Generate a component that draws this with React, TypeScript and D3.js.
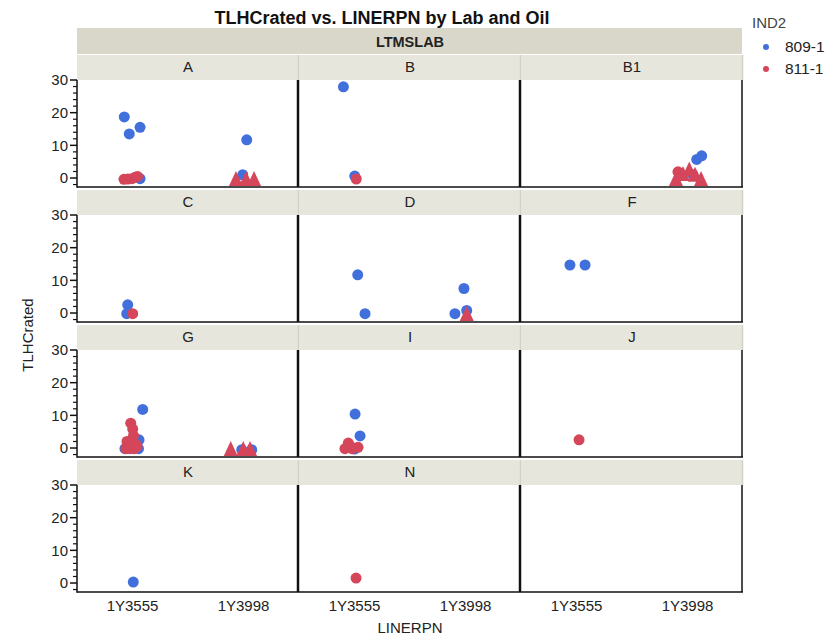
import React from "react";
import * as d3 from "d3";

// Lab panels in reading order (last cell of the grid is empty)
const LABS = ["A", "B", "B1", "C", "D", "F", "G", "I", "J", "K", "N", ""];
const LINERS = ["1Y3555", "1Y3998"];
const IND2 = ["809-1", "811-1"];
const Y_TICKS = [0, 10, 20, 30];
const Y_MINOR = d3.range(-2, 30, 2).filter((v) => v % 10 !== 0);

// [lab, liner, jitter (category units), TLHCrated, marker]
type Pt = [string, string, number, number, "c" | "t"];

const SERIES_809: Pt[] = [
  ["A", "1Y3555", -0.074, 18.7, "c"],
  ["A", "1Y3555", -0.029, 13.5, "c"],
  ["A", "1Y3555", 0.068, 15.5, "c"],
  ["A", "1Y3555", 0.068, -0.2, "c"],
  ["A", "1Y3998", 0.029, 11.7, "c"],
  ["A", "1Y3998", -0.007, 1.0, "c"],
  ["B", "1Y3555", -0.1, 27.9, "c"],
  ["B", "1Y3555", 0.002, 0.6, "c"],
  ["B1", "1Y3998", 0.128, 6.8, "c"],
  ["B1", "1Y3998", 0.083, 5.7, "c"],
  ["B1", "1Y3998", 0.05, 1.0, "c"],
  ["C", "1Y3555", -0.043, 2.5, "c"],
  ["C", "1Y3555", -0.052, -0.2, "c"],
  ["D", "1Y3555", 0.029, 11.7, "c"],
  ["D", "1Y3555", 0.095, -0.2, "c"],
  ["D", "1Y3998", -0.095, -0.2, "c"],
  ["D", "1Y3998", -0.014, 7.5, "c"],
  ["D", "1Y3998", 0.011, 0.8, "c"],
  ["F", "1Y3555", -0.059, 14.7, "c"],
  ["F", "1Y3555", 0.077, 14.7, "c"],
  ["G", "1Y3555", 0.092, 11.8, "c"],
  ["G", "1Y3555", -0.068, -0.2, "c"],
  ["G", "1Y3555", 0.059, 2.5, "c"],
  ["G", "1Y3555", 0.054, -0.2, "c"],
  ["G", "1Y3998", -0.016, -0.5, "c"],
  ["G", "1Y3998", 0.074, -0.5, "c"],
  ["I", "1Y3555", 0.005, 10.4, "c"],
  ["I", "1Y3555", 0.05, 3.7, "c"],
  ["I", "1Y3555", 0.0, -0.3, "c"],
  ["K", "1Y3555", 0.007, 0.3, "c"],
];

const SERIES_811: Pt[] = [
  ["A", "1Y3555", -0.077, -0.4, "c"],
  ["A", "1Y3555", -0.041, -0.3, "c"],
  ["A", "1Y3555", -0.005, -0.2, "c"],
  ["A", "1Y3555", 0.023, 0.2, "c"],
  ["A", "1Y3555", 0.045, 0.5, "c"],
  ["A", "1Y3998", -0.068, -0.3, "t"],
  ["A", "1Y3998", 0.023, -0.3, "t"],
  ["A", "1Y3998", 0.095, -0.3, "t"],
  ["B", "1Y3555", 0.016, -0.3, "c"],
  ["B1", "1Y3998", -0.086, 1.9, "c"],
  ["B1", "1Y3998", -0.104, -0.3, "t"],
  ["B1", "1Y3998", -0.041, 1.2, "t"],
  ["B1", "1Y3998", 0.016, 2.6, "t"],
  ["B1", "1Y3998", 0.068, 1.0, "t"],
  ["B1", "1Y3998", 0.122, -0.3, "t"],
  ["C", "1Y3555", 0.002, -0.2, "c"],
  ["D", "1Y3998", 0.011, -0.3, "t"],
  ["G", "1Y3555", -0.016, 7.6, "c"],
  ["G", "1Y3555", 0.002, 5.8, "c"],
  ["G", "1Y3555", 0.009, 3.8, "c"],
  ["G", "1Y3555", -0.05, 2.0, "c"],
  ["G", "1Y3555", 0.005, 2.2, "c"],
  ["G", "1Y3555", 0.032, 1.0, "c"],
  ["G", "1Y3555", -0.059, -0.2, "c"],
  ["G", "1Y3555", -0.023, -0.2, "c"],
  ["G", "1Y3555", 0.014, -0.2, "c"],
  ["G", "1Y3555", 0.041, 0.5, "c"],
  ["G", "1Y3998", -0.115, -0.3, "t"],
  ["G", "1Y3998", -0.002, -0.3, "t"],
  ["G", "1Y3998", 0.059, -0.3, "t"],
  ["I", "1Y3555", -0.056, 1.5, "c"],
  ["I", "1Y3555", -0.086, -0.2, "c"],
  ["I", "1Y3555", -0.023, -0.2, "c"],
  ["I", "1Y3555", 0.032, 0.2, "c"],
  ["I", "1Y3555", -0.041, 0.7, "c"],
  ["J", "1Y3555", 0.023, 2.5, "c"],
  ["N", "1Y3555", 0.014, 1.5, "c"],
];

const COLORS = ["#4170DD", "#D5465A"];
const FONT = "'Liberation Sans', Arial, sans-serif";
const INK = "#222";

const W = 840;
const H = 637;
const LEFT = 77;
const PANEL_W = 222;
const TOP = 55;
const ROW_PITCH = 135;
const STRIP_H = 25;
const PLOT_H = 107;

export default function App() {
  const x = d3.scaleLinear().domain([0, 2]).range([0, PANEL_W]);
  const y = d3.scaleLinear().domain([-2.75, 30]).range([PLOT_H, 0]);
  const xCat = (liner: string, j: number) => x(LINERS.indexOf(liner) + 0.5 + j);
  const rows = Math.ceil(LABS.length / 3);
  const gridRight = LEFT + PANEL_W * 3 - 1;

  const marker = (p: Pt, color: string, key: string) => {
    const cx = xCat(p[1], p[2]);
    const cy = y(p[3]);
    if (p[4] === "t") {
      const path = `M${cx},${cy - 8}L${cx + 7},${cy + 7}L${cx - 7},${cy + 7}Z`;
      return <path key={key} d={path} fill={color} />;
    }
    return <circle key={key} cx={cx} cy={cy} r={5.5} fill={color} />;
  };

  return (
    <svg width={W} height={H} style={{ display: "block", position: "absolute", left: 0, top: 0 }} fontFamily={FONT}>
      <rect width={W} height={H} fill="#fff" />
      <text x={382} y={24} textAnchor="middle" fontSize={18} fontWeight="bold" fill="#111">
        TLHCrated vs. LINERPN by Lab and Oil
      </text>

      {/* outer facet header */}
      <rect x={LEFT} y={28} width={gridRight - LEFT} height={26} fill="#D9D7CA" />
      <text x={410} y={47} textAnchor="middle" fontSize={14.5} fontWeight="bold" fill={INK}>
        LTMSLAB
      </text>

      {LABS.map((lab, k) => {
        const r = Math.floor(k / 3);
        const c = k % 3;
        const px = LEFT + c * PANEL_W;
        const sy = TOP + r * ROW_PITCH;
        const py = sy + STRIP_H;
        const b809 = SERIES_809.filter((p) => p[0] === lab && lab !== "");
        const r811 = SERIES_811.filter((p) => p[0] === lab && lab !== "");
        return (
          <g key={k}>
            <rect x={px} y={sy} width={PANEL_W - (c === 2 ? 1 : 0)} height={STRIP_H} fill="#E7E6DD" />
            <line x1={px + PANEL_W - 0.5} x2={px + PANEL_W - 0.5} y1={sy} y2={sy + STRIP_H} stroke="#D2D1C6" strokeWidth={1.5} />
            <text x={px + PANEL_W / 2} y={sy + 17} textAnchor="middle" fontSize={15} fill={INK}>
              {lab}
            </text>
            <clipPath id={`clip${k}`}>
              <rect x={0} y={0} width={PANEL_W} height={PLOT_H} />
            </clipPath>
            <g transform={`translate(${px},${py})`} clipPath={`url(#clip${k})`}>
              {b809.map((p, i) => marker(p, COLORS[0], `b${i}`))}
              {r811.map((p, i) => marker(p, COLORS[1], `r${i}`))}
            </g>
          </g>
        );
      })}

      {/* frames, axes */}
      {d3.range(rows).map((r) => {
        const py = TOP + r * ROW_PITCH + STRIP_H;
        return (
          <g key={`ax${r}`}>
            <line x1={LEFT} x2={gridRight + 1} y1={py + PLOT_H} y2={py + PLOT_H} stroke="#111" strokeWidth={1.5} />
            <line x1={LEFT} x2={LEFT} y1={py} y2={py + PLOT_H + 0.75} stroke="#111" strokeWidth={1.5} />
            {[1, 2].map((c) => (
              <line key={c} x1={LEFT + c * PANEL_W - 1} x2={LEFT + c * PANEL_W - 1} y1={py} y2={py + PLOT_H} stroke="#111" strokeWidth={2.5} />
            ))}
            <line x1={gridRight} x2={gridRight} y1={py} y2={py + PLOT_H} stroke="#111" strokeWidth={1.5} />
            {Y_TICKS.map((t) => (
              <g key={t} transform={`translate(${LEFT},${py + y(t)})`}>
                <line x1={-7} x2={0} stroke="#111" strokeWidth={1.5} />
                <text x={-9} dy="0.35em" textAnchor="end" fontSize={15} fill={INK}>
                  {t}
                </text>
              </g>
            ))}
            {Y_MINOR.map((t) => (
              <line key={t} x1={LEFT - 4} x2={LEFT} y1={py + y(t)} y2={py + y(t)} stroke="#111" strokeWidth={1.2} />
            ))}
          </g>
        );
      })}

      {/* category labels under the bottom row */}
      {[0, 1, 2].map((c) =>
        LINERS.map((l, i) => (
          <text key={`${c}${l}`} x={LEFT + c * PANEL_W + x(i + 0.5)} y={611} textAnchor="middle" fontSize={15} fill={INK}>
            {l}
          </text>
        ))
      )}
      <text x={410} y={633} textAnchor="middle" fontSize={15} fill={INK}>
        LINERPN
      </text>
      <text transform="translate(33,335) rotate(-90)" textAnchor="middle" fontSize={15} fill={INK}>
        TLHCrated
      </text>

      {/* legend */}
      <text x={752} y={28} fontSize={15} fill="#444">
        IND2
      </text>
      {IND2.map((s, i) => (
        <g key={s} transform={`translate(766,${47 + i * 22})`}>
          <circle r={3} fill={COLORS[i]} />
          <text x={19} dy="0.35em" fontSize={15.5} fill={INK}>
            {s}
          </text>
        </g>
      ))}
    </svg>
  );
}
